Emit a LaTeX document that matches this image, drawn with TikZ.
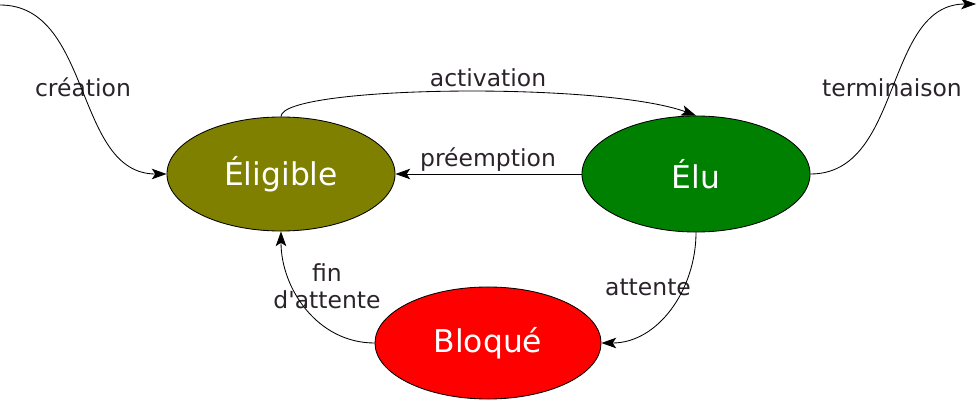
\documentclass[tikz,border=0pt]{standalone}
\usepackage{fontspec}
\setmainfont{DejaVu Sans}[Ligatures=TeXOff]
\usetikzlibrary{shapes.geometric,arrows.meta}
\definecolor{labelgray}{RGB}{42,36,42}
\begin{document}
\begin{tikzpicture}[x=0.025cm, y=0.025cm,
            >={Stealth[length=10.5pt,width=7.5pt,inset=2.5pt]},
            state/.style={ellipse, draw, line width=0.6pt, inner sep=0pt, text=white,
                          font=\fontsize{22.3}{26}\selectfont},
            lbl/.style={text=labelgray, inner sep=0pt, font=\fontsize{16.7}{19.2}\selectfont},
            trans/.style={->, line width=0.6pt}
            ]
            \useasboundingbox (0,0) rectangle (977,402);

            \node[state, fill={rgb,255:red,128;green,128;blue,0}, minimum width=5.7cm, minimum height=2.85cm] (eligible) at (281,228) {Éligible};
            \node[state, fill={rgb,255:red,0;green,128;blue,0}, minimum width=5.7cm, minimum height=2.9cm] (elu) at (696,228) {Élu};
            \node[state, fill=red, minimum width=5.65cm, minimum height=2.8cm] (bloque) at (488,59) {Bloqué};

            \coordinate (start) at (0,397);
            \coordinate (end) at (976,398);

            \node[lbl, anchor=base] (creation) at (83,305) {création};
            \node[lbl, anchor=base] (terminaison) at (892,305) {terminaison};
            \node[lbl, anchor=base] (activation) at (488,315) {activation};
            \node[lbl, anchor=base] (preemption) at (488,235) {préemption};
            \node[lbl, anchor=base] (attente) at (648,107) {attente};
            \node[lbl, align=center] (finattente) at (327,116) {fin\\d'attente};

            \draw[trans] (start) to[out=0, in=180] (eligible.west);
            \draw[trans] (elu.east) to[out=0, in=180] (end);
            \draw[trans] (eligible.north) .. controls +(90:31) and +(160:100) .. (elu.north);
            \draw[trans] (elu.west) -- (eligible.east);
            \draw[trans] (elu.south) to[out=-90, in=0] (bloque.east);
            \draw[trans] (bloque.west) to[out=180, in=-90] (eligible.south);

\end{tikzpicture}
\end{document}
